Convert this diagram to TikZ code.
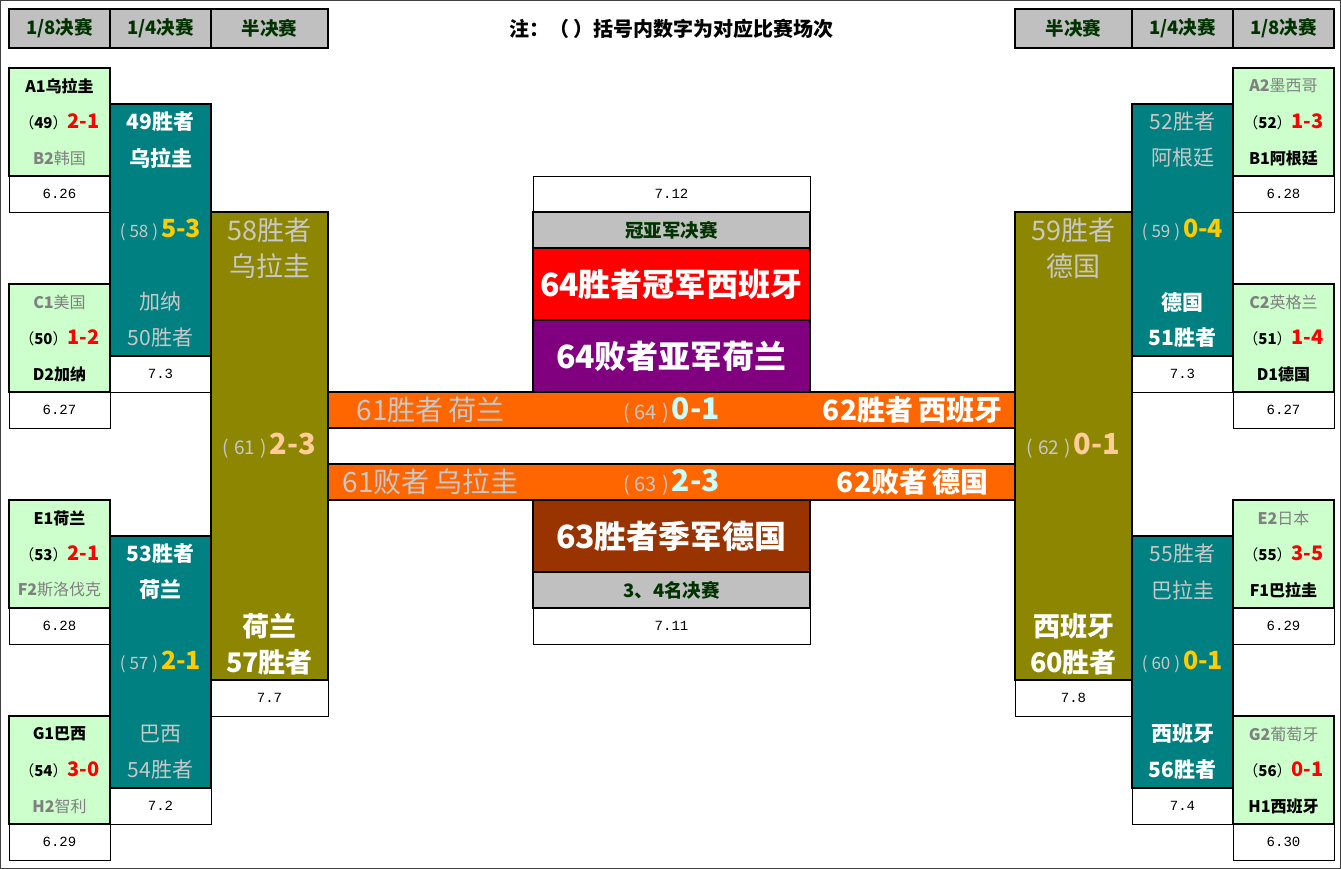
\documentclass[tikz,border=0pt]{standalone}
\usepackage{fontspec}
\setmainfont{Noto Sans CJK SC}
\newfontfamily\datefont{Liberation Mono}
\usepackage{xcolor}
\usepackage{tikz}
\usetikzlibrary{positioning}

\definecolor{hdrgray}{HTML}{C0C0C0}
\definecolor{hdrtext}{HTML}{003300}
\definecolor{mintfill}{HTML}{CCFFCC}
\definecolor{losegray}{HTML}{808080}
\definecolor{palegray}{HTML}{C8C8C8}
\definecolor{barorange}{HTML}{FF6600}
\definecolor{gold}{HTML}{FFCC00}
\definecolor{peach}{HTML}{FFCC99}
\definecolor{icecyan}{HTML}{CCFFFF}
\definecolor{bronze}{HTML}{993300}
\definecolor{plum}{HTML}{800080}

% score lines: match number + result
\newcommand{\gscore}[2]{{\fontsize{15}{17}\selectfont（\textbf{#1}）}{\color{red}\bfseries\fontsize{20}{22}\selectfont#2}}
\newcommand{\tscore}[2]{{\color{palegray}\fontsize{17}{19}\selectfont(\hspace{4pt}#1\hspace{4pt})\hspace{3pt}}{\color{gold}\bfseries\fontsize{25}{27}\selectfont#2}}
\newcommand{\oscore}[2]{{\color{palegray}\fontsize{19}{21}\selectfont(\hspace{5pt}#1\hspace{5pt})\hspace{3pt}}{\color{peach}\bfseries\fontsize{29}{31}\selectfont#2}}
\newcommand{\bscore}[2]{{\color{palegray}\fontsize{20}{22}\selectfont(\hspace{5pt}#1\hspace{5pt})\hspace{3pt}}{\color{icecyan}\bfseries\fontsize{30}{32}\selectfont#2}}

\begin{document}
\begin{tikzpicture}[
  x=1pt, y=-1pt,
  every node/.style={inner sep=0pt, outer sep=0pt},
  hdr/.style={draw, line width=1.8pt, fill=hdrgray, text=hdrtext, minimum height=39, font=\bfseries\fontsize{18.5}{20}\selectfont},
  datecell/.style={draw, line width=0.6pt, fill=white, minimum height=36, font=\datefont\fontsize{14}{16}\selectfont},
  mintbox/.style={draw, line width=1.8pt, fill=mintfill, minimum width=101, minimum height=108},
  tealbox/.style={draw, line width=1.8pt, fill=teal, minimum width=101, minimum height=252},
  olivebox/.style={draw, line width=1.8pt, fill=olive, minimum width=117, minimum height=468},
  barbox/.style={draw, line width=1.8pt, fill=barorange, minimum width=687, minimum height=36},
  finalbox/.style={draw, line width=1.8pt, minimum width=277, minimum height=72, text=white, font=\bfseries\fontsize{32}{34}\selectfont},
  stagebox/.style={draw, line width=1.8pt, fill=hdrgray, minimum width=277, minimum height=36, text=hdrtext, font=\bfseries\fontsize{18.5}{20}\selectfont},
  gwin/.style={font=\bfseries\fontsize{16}{18}\selectfont},
  glose/.style={text=losegray, font=\fontsize{16}{18}\selectfont},
  twin/.style={text=white, font=\bfseries\fontsize{21}{23}\selectfont},
  tlose/.style={text=palegray, font=\fontsize{21}{23}\selectfont},
  owin/.style={text=white, font=\bfseries\fontsize{27}{29}\selectfont},
  olose/.style={text=palegray, font=\fontsize{27}{29}\selectfont},
  bwin/.style={text=white, font=\bfseries\fontsize{28}{30}\selectfont},
  blose/.style={text=palegray, font=\fontsize{28}{30}\selectfont}
]
\useasboundingbox (0,0) rectangle (1341,869);
\fill[white] (0,0) rectangle (1341,869);
\draw[line width=0.8pt, black!75] (0.5,0.5) rectangle (1340.5,868.5);

% headers
\node[hdr, minimum width=101] (hL8) at (59.5,28.5) {1/8决赛};
\node[hdr, minimum width=101] (hL4) at (160.5,28.5) {1/4决赛};
\node[hdr, minimum width=117] (hL2) at (269.5,28.5) {半决赛};
\node[hdr, minimum width=117] (hR2) at (1073.5,28.5) {半决赛};
\node[hdr, minimum width=101] (hR4) at (1182.5,28.5) {1/4决赛};
\node[hdr, minimum width=101] (hR8) at (1283.5,28.5) {1/8决赛};
\node[font=\bfseries\fontsize{20}{22}\selectfont] (note) at (671.5,28.5) {注：（ ）括号内数字为对应比赛场次};

% dates
\node[datecell, minimum width=101] (d49) at (59.5,194) {6.26};
\node[datecell, minimum width=101] (d50) at (59.5,410) {6.27};
\node[datecell, minimum width=101] (d53) at (59.5,626) {6.28};
\node[datecell, minimum width=101] (d54) at (59.5,842) {6.29};
\node[datecell, minimum width=101] (d58) at (160.5,374) {7.3};
\node[datecell, minimum width=101] (d57) at (160.5,806) {7.2};
\node[datecell, minimum width=117] (d61) at (269.5,698) {7.7};
\node[datecell, minimum width=101] (d52) at (1283.5,194) {6.28};
\node[datecell, minimum width=101] (d51) at (1283.5,410) {6.27};
\node[datecell, minimum width=101] (d55) at (1283.5,626) {6.29};
\node[datecell, minimum width=101] (d56) at (1283.5,842) {6.30};
\node[datecell, minimum width=101] (d59) at (1182.5,374) {7.3};
\node[datecell, minimum width=101] (d60) at (1182.5,806) {7.4};
\node[datecell, minimum width=117] (d62) at (1073.5,698) {7.8};
\node[datecell, minimum width=277] (d64) at (671.5,194) {7.12};
\node[datecell, minimum width=277] (d63) at (671.5,626) {7.11};

% round of 16, left
\node[mintbox] (m49) at (59.5,122) {\gscore{49}{2-1}};
\node[gwin] (m49a) at (59.5,86) {A1乌拉圭};
\node[glose] (m49b) at (59.5,158) {\textbf{B2}韩国};
\node[mintbox] (m50) at (59.5,338) {\gscore{50}{1-2}};
\node[glose] (m50a) at (59.5,302) {\textbf{C1}美国};
\node[gwin] (m50b) at (59.5,374) {D2加纳};
\node[mintbox] (m53) at (59.5,554) {\gscore{53}{2-1}};
\node[gwin] (m53a) at (59.5,518) {E1荷兰};
\node[glose] (m53b) at (59.5,590) {\textbf{F2}斯洛伐克};
\node[mintbox] (m54) at (59.5,770) {\gscore{54}{3-0}};
\node[gwin] (m54a) at (59.5,734) {G1巴西};
\node[glose] (m54b) at (59.5,806) {\textbf{H2}智利};

% round of 16, right
\node[mintbox] (m52) at (1283.5,122) {\gscore{52}{1-3}};
\node[glose] (m52a) at (1283.5,86) {\textbf{A2}墨西哥};
\node[gwin] (m52b) at (1283.5,158) {B1阿根廷};
\node[mintbox] (m51) at (1283.5,338) {\gscore{51}{1-4}};
\node[glose] (m51a) at (1283.5,302) {\textbf{C2}英格兰};
\node[gwin] (m51b) at (1283.5,374) {D1德国};
\node[mintbox] (m55) at (1283.5,554) {\gscore{55}{3-5}};
\node[glose] (m55a) at (1283.5,518) {\textbf{E2}日本};
\node[gwin] (m55b) at (1283.5,590) {F1巴拉圭};
\node[mintbox] (m56) at (1283.5,770) {\gscore{56}{0-1}};
\node[glose] (m56a) at (1283.5,734) {\textbf{G2}葡萄牙};
\node[gwin] (m56b) at (1283.5,806) {H1西班牙};

% quarter finals
\node[tealbox] (q58) at (160.5,230) {\tscore{58}{5-3}};
\node[twin] (q58a) at (160.5,122) {49胜者};
\node[twin] (q58b) at (160.5,158) {乌拉圭};
\node[tlose] (q58c) at (160.5,302) {加纳};
\node[tlose] (q58d) at (160.5,338) {50胜者};
\node[tealbox] (q57) at (160.5,662) {\tscore{57}{2-1}};
\node[twin] (q57a) at (160.5,554) {53胜者};
\node[twin] (q57b) at (160.5,590) {荷兰};
\node[tlose] (q57c) at (160.5,734) {巴西};
\node[tlose] (q57d) at (160.5,770) {54胜者};
\node[tealbox] (q59) at (1182.5,230) {\tscore{59}{0-4}};
\node[tlose] (q59a) at (1182.5,122) {52胜者};
\node[tlose] (q59b) at (1182.5,158) {阿根廷};
\node[twin] (q59c) at (1182.5,302) {德国};
\node[twin] (q59d) at (1182.5,338) {51胜者};
\node[tealbox] (q60) at (1182.5,662) {\tscore{60}{0-1}};
\node[tlose] (q60a) at (1182.5,554) {55胜者};
\node[tlose] (q60b) at (1182.5,590) {巴拉圭};
\node[twin] (q60c) at (1182.5,734) {西班牙};
\node[twin] (q60d) at (1182.5,770) {56胜者};

% semi finals
\node[olivebox] (s61) at (269.5,446) {\oscore{61}{2-3}};
\node[olose] (s61a) at (269.5,230) {58胜者};
\node[olose] (s61b) at (269.5,266) {乌拉圭};
\node[owin] (s61c) at (269.5,626) {荷兰};
\node[owin] (s61d) at (269.5,662) {57胜者};
\node[olivebox] (s62) at (1073.5,446) {\oscore{62}{0-1}};
\node[olose] (s62a) at (1073.5,230) {59胜者};
\node[olose] (s62b) at (1073.5,266) {德国};
\node[owin] (s62c) at (1073.5,626) {西班牙};
\node[owin] (s62d) at (1073.5,662) {60胜者};

% final and third place
\node[stagebox] (fin) at (671.5,230) {冠亚军决赛};
\node[finalbox, fill=red] (champ) at (671.5,284) {64胜者冠军西班牙};
\node[finalbox, fill=plum] (runner) at (671.5,356) {64败者亚军荷兰};
\node[barbox] (f64) at (671.5,410) {\bscore{64}{0-1}};
\node[blose] (f64a) at (430.5,410) {61胜者\hspace{5pt}荷兰};
\node[bwin] (f64b) at (912.5,410) {62胜者\hspace{5pt}西班牙};
\node[barbox] (f63) at (671.5,482) {\bscore{63}{2-3}};
\node[blose] (f63a) at (430.5,482) {61败者\hspace{5pt}乌拉圭};
\node[bwin] (f63b) at (912.5,482) {62败者\hspace{5pt}德国};
\node[finalbox, fill=bronze] (third) at (671.5,536) {63胜者季军德国};
\node[stagebox] (thirdfin) at (671.5,590) {3、4名决赛};
\end{tikzpicture}
\end{document}
